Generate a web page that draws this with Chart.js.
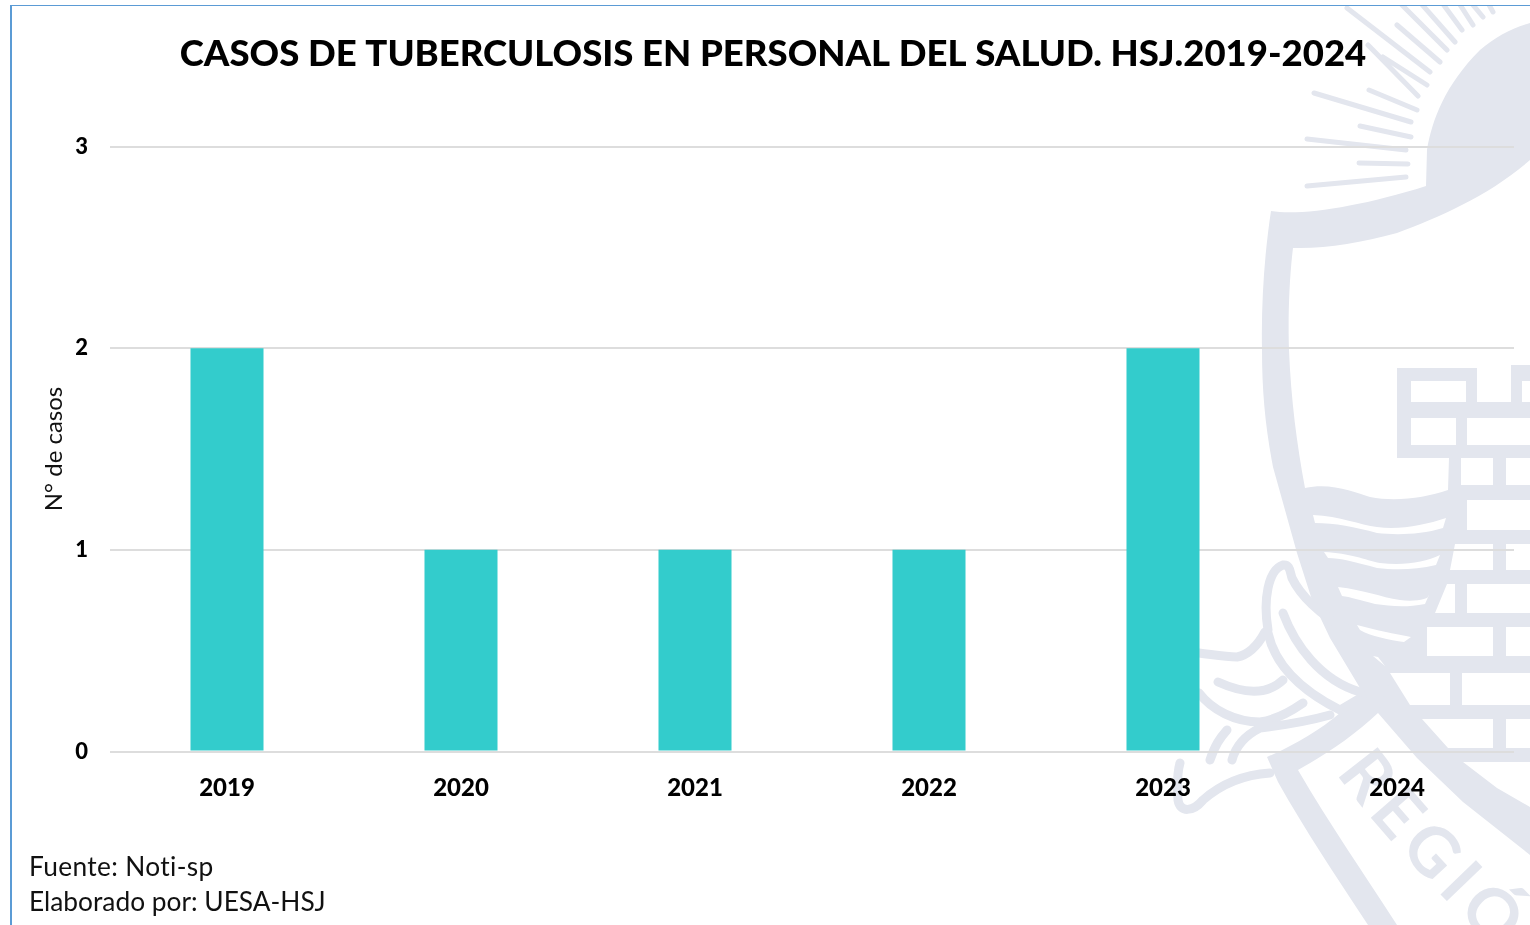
<!DOCTYPE html>
<html lang="es">
<head>
<meta charset="utf-8">
<title>Casos de tuberculosis en personal del salud</title>
<script src="https://cdn.jsdelivr.net/npm/chart.js@4"></script>
<style>
html,body{margin:0;padding:0;background:#fff;overflow:hidden}
#stage{position:relative;width:1530px;height:925px;overflow:hidden;background:#fff}
#mark,#chart,#frame{position:absolute;left:0;top:0}
#frame{left:10px;top:5px;width:1520px;height:920px;border-left:2px solid #5B9BD5;border-top:1.5px solid #5B9BD5;box-sizing:border-box;pointer-events:none}
.note{position:absolute;left:29px;font:400 26.3px Lato,sans-serif;font-variant-ligatures:none;color:#111;white-space:nowrap;line-height:30px}
#chart{font-variant-ligatures:none}
</style>
</head>
<body>
<div id="stage">
<svg id="mark" width="1530" height="925" viewBox="0 0 1530 925" aria-hidden="true">
  <defs><clipPath id="c"><rect x="10" y="5" width="1520" height="920"/></clipPath>
  <path id="arc" d="M1336,773 Q1386,845 1551,1005"/></defs>
  <g clip-path="url(#c)">
    <path fill="#E3E6EE" d="M1305,488 C1330,482 1355,492 1370,497 C1395,502 1425,498 1448,490 L1449,458 L1397,458 L1397,368 L1477,368 L1477,402 L1511,402 L1511,365 L1530,365 L1530,855 L1463,802 L1417,758 L1378,713 L1360,688 L1330,638 L1312,600 L1297,553 L1273,467 C1265,425 1262,390 1262,350 C1261,300 1265,250 1271,211 C1300,216 1360,207 1426,186 L1427,150 C1432,120 1445,85 1480,50 C1495,37 1512,28 1530,23 L1530,160 C1490,195 1440,217 1397,233 C1360,243 1325,249 1293,248 C1289,280 1288,320 1289,350 C1291,400 1297,445 1305,488 Z"/>
    <path fill="#E3E6EE" d="M1267,757 C1295,745 1320,730 1340,713 L1360,695 L1390,680 L1378,713 C1355,735 1325,755 1298,770 C1330,825 1365,875 1397,925 L1368,925 C1335,875 1305,830 1278,782 Z"/>
    <g fill="#fff">
      <path d="M1411,381h55v21h-55zM1411,418h45v27h-45zM1522,381h8v21h-8zM1467,418h63v27h-63z"/>
      <path d="M1461,458h32v27h-32zM1506,458h24v27h-24zM1467,500h63v30h-63zM1455,544h38v26h-43zM1506,544h24v26h-24z"/>
      <path d="M1447,584h8v29h-20zM1467,584h63v29h-63zM1427,627h66v29h-66zM1506,627h24v29h-24z"/>
      <path d="M1390,673h60v32h-40zM1462,673h68v32h-68zM1422,719h71v29h-45zM1506,719h24v29h-24z"/>
      <path d="M1463,762h67v45l-33,-19zM1373,656l12,10l-7,-9z"/>
      <path d="M1313,515C1340,516 1360,525 1377,527C1400,530 1425,525 1446,518L1443,528C1420,535 1395,535 1377,533C1355,527 1335,523 1315,523Z"/>
      <path d="M1324,552C1350,553 1365,560 1380,563C1405,566 1425,562 1440,555L1436,565C1415,570 1395,570 1377,568C1355,562 1340,558 1328,558Z"/>
      <path d="M1338,587C1365,590 1380,597 1400,600C1415,602 1430,599 1429,595L1425,604C1405,608 1390,606 1375,604C1360,600 1350,597 1342,596Z"/>
      <path d="M1357,625C1375,630 1395,634 1411,637L1404,642C1390,640 1370,636 1360,630Z"/>
    </g>
    <g fill="none" stroke="#E3E6EE" stroke-linecap="round" stroke-width="5">
      <path d="M1347,8L1430,72M1397,25L1440,62M1383,57L1427,85M1368,45L1418,96M1369,90L1417,110M1314,93L1411,122M1360,126L1411,137M1307,139L1406,150M1359,163L1408,164M1307,186L1406,177"/>
      <path d="M1397,0L1447,50M1418,0L1455,42M1440,0L1462,30M1457,0L1473,25M1473,5L1483,17M1488,3L1493,12"/>
    </g>
    <g fill="none" stroke="#E3E6EE" stroke-linecap="round" stroke-width="9">
      <path d="M1199,653C1215,655 1225,657 1237,657C1248,655 1258,645 1265,632"/>
      <path d="M1268,630C1263,600 1268,570 1283,565C1290,564 1290,572 1292,578C1300,595 1320,615 1345,628"/>
      <path d="M1268,633C1275,665 1300,690 1340,710L1362,697"/>
      <path d="M1283,613C1295,645 1320,680 1360,692"/>
      <path d="M1218,682C1240,692 1265,697 1283,680"/>
      <path d="M1199,693C1212,710 1235,722 1260,722C1275,720 1290,712 1303,703"/>
      <path d="M1210,760C1215,745 1220,738 1227,730M1232,760C1236,745 1246,735 1260,728C1285,725 1305,722 1330,715"/>
      <path d="M1270,773C1240,775 1220,785 1203,800C1193,812 1180,813 1178,800C1177,785 1178,770 1180,763"/>
    </g>
    <text font-family="Lato, sans-serif" font-weight="700" font-size="68" fill="#E3E6EE" letter-spacing="8"><textPath href="#arc">REGIÓN</textPath></text>
  </g>
</svg>
<canvas id="chart" width="1530" height="925"></canvas>
<div id="frame"></div>
<div class="note" style="top:851px;letter-spacing:.35px">Fuente: Noti-sp</div>
<div class="note" style="top:886px">Elaborado por: UESA-HSJ</div>
</div>
<script>
const years = ['2019', '2020', '2021', '2022', '2023', '2024'];
const cases = [2, 1, 1, 1, 2, 0];
const titleText = 'CASOS DE TUBERCULOSIS EN PERSONAL DEL SALUD. HSJ.2019-2024';
const yAxisTitle = 'N° de casos';
const fontFamily = 'Lato, sans-serif';

new Chart(document.getElementById('chart'), {
  type: 'bar',
  data: {
    labels: years,
    datasets: [{
      data: cases,
      backgroundColor: '#33CCCC',
      borderWidth: 0,
      categoryPercentage: 1,
      barPercentage: 0.312
    }]
  },
  options: {
    responsive: false,
    animation: false,
    layout: { padding: { left: 32, right: 16, top: 0, bottom: 0 } },
    plugins: {
      legend: { display: false },
      tooltip: { enabled: false },
      title: {
        display: true,
        text: titleText,
        color: '#000',
        font: { family: fontFamily, size: 36.5, weight: '900' },
        padding: { top: 32, bottom: 0 }
      }
    },
    scales: {
      x: {
        grid: { display: false },
        border: { display: false },
        ticks: { color: '#000', padding: 14, font: { family: fontFamily, size: 24, weight: '900' } },
        afterFit(s) { s.height = 925 - 751.5; }
      },
      y: {
        min: 0,
        max: 3,
        border: { display: false },
        grid: { color: '#DDDDDD', lineWidth: 2, drawTicks: false },
        ticks: { stepSize: 1, color: '#000', padding: 22, font: { family: fontFamily, size: 22, weight: '900' } },
        title: { display: true, text: yAxisTitle, color: '#111', font: { family: fontFamily, size: 24, weight: '400' }, padding: { top: 8, bottom: 0 } },
        afterFit(s) { s.width = 78; }
      }
    }
  },
  plugins: [{
    id: 'fixTop',
    beforeLayout(chart) {
      const t = chart.options.plugins.title;
      // keep plot top at the position of the top gridline
      t.padding.bottom = 146.5 - t.padding.top - 36.5 * 1.2;
    }
  }]
});
</script>
</body>
</html>
